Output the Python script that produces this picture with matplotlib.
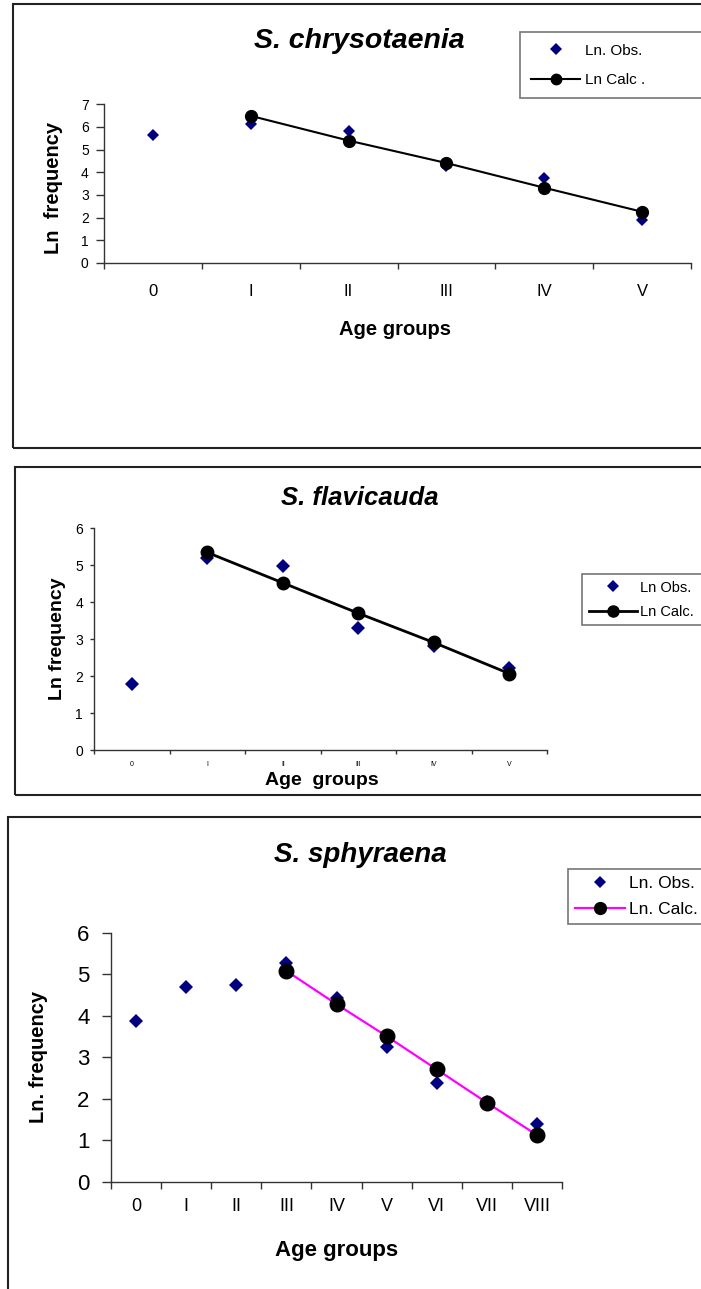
import numpy as np
import matplotlib
matplotlib.use("Agg")
import matplotlib.pyplot as plt
from matplotlib.patches import Rectangle

plt.rcParams['font.family'] = ['Liberation Sans', 'DejaVu Sans']

W, H = 701, 1289

# data
ages1 = ['0', 'I', 'II', 'III', 'IV', 'V']
obs1 = [5.65, 6.12, 5.84, 4.27, 3.76, 1.90]
calc1 = [6.49, 5.40, 4.41, 3.32, 2.26]          # I..V

ages2 = ['0', 'I', 'II', 'III', 'IV', 'V']
obs2 = [1.78, 5.18, 4.98, 3.29, 2.82, 2.21]
calc2 = [5.34, 4.52, 3.70, 2.91, 2.07]          # I..V

ages3 = ['0', 'I', 'II', 'III', 'IV', 'V', 'VI', 'VII', 'VIII']
obs3 = [3.87, 4.69, 4.73, 5.28, 4.43, 3.24, 2.39, 1.92, 1.39]
calc3 = [5.08, 4.28, 3.51, 2.71, 1.91, 1.13]    # III..VIII


def rect(l, t, r, b):
    return [l / W, 1 - b / H, (r - l) / W, (b - t) / H]


def fx(x):
    return x / W


def fy(y):
    return 1 - y / H


fig = plt.figure(figsize=(W / 100, H / 100), dpi=100)
fig.patch.set_facecolor('white')

# panel frames
for l, t, r, b in [(12.7, 3.5, 720, 447.7), (14.7, 466.7, 720, 795), (8, 816.7, 720, 1310)]:
    fig.add_artist(Rectangle((fx(l), fy(b)), fx(r - l), (b - t) / H, transform=fig.transFigure,
                             fill=False, edgecolor='#222222', lw=1.5))


def panel(box, ages, obs, calc, start, ymax, title, tpos, xlab, xpos, ylab, ypos,
          fs, leg_lab, leg, line_col, lw, ms_c, ms_d):
    ax = fig.add_axes(rect(*box))
    x = np.arange(len(ages))
    ax.plot(x, obs, linestyle='none', marker='D', color='#000080', ms=ms_d, mew=0,
            label=leg_lab[0], zorder=3)
    ax.plot(x[start:], calc, color=line_col, lw=lw, marker='o', mfc='black', mec='black',
            ms=ms_c, label=leg_lab[1], zorder=4)
    ax.set_xlim(-0.5, len(ages) - 0.5)
    ax.set_ylim(0, ymax)
    ax.set_yticks(range(ymax + 1))
    ax.set_xticks(np.arange(len(ages) + 1) - 0.5)
    ax.set_xticklabels([])
    ax.set_xticks(x, minor=True)
    ax.set_xticklabels(ages, minor=True)
    for s in ['top', 'right']:
        ax.spines[s].set_visible(False)
    for s in ['left', 'bottom']:
        ax.spines[s].set_color('#333333')
        ax.spines[s].set_linewidth(1.0)
    ax.tick_params(axis='y', direction='out', length=fs['ylen'], width=1, color='#333333',
                   labelsize=fs['ytick'], pad=fs['ypad'])
    ax.tick_params(axis='x', which='major', direction='out', length=fs['xlen'], width=1,
                   color='#333333')
    ax.tick_params(axis='x', which='minor', length=0, labelsize=fs['xtick'], pad=fs['xpad'])
    ax.set_facecolor('none')

    fig.text(fx(tpos[0]), fy(tpos[1]), title, ha='center', va='baseline',
             fontsize=fs['title'], fontweight='bold', fontstyle='italic')
    fig.text(fx(xpos[0]), fy(xpos[1]), xlab, ha='center', va='baseline',
             fontsize=fs['xlab'], fontweight='bold')
    fig.text(fx(ypos[0]), fy(ypos[1]), ylab, ha='center', va='center', rotation=90,
             fontsize=fs['ylab'], fontweight='bold')

    # legend box runs past the right edge, as in the source
    lg = ax.legend(loc='upper left',
                   bbox_to_anchor=(fx(leg['x']), fy(leg['y']) - 0.05, fx(708 - leg['x']), 0.05),
                   bbox_transform=fig.transFigure, mode='expand', numpoints=1,
                   fontsize=leg['fs'], frameon=True, fancybox=False, borderpad=leg['bp'],
                   labelspacing=leg['ls'], handlelength=leg['hl'], handletextpad=leg['hp'],
                   borderaxespad=0)
    lg.get_frame().set_edgecolor('#555555')
    lg.get_frame().set_linewidth(1.2)
    h = lg.legend_handles
    h[0].set_markersize(leg['md'])
    h[1].set_markersize(leg['mc'])
    return ax


panel((104, 104.3, 691, 263), ages1, obs1, calc1, 1, 7,
      'S. chrysotaenia', (359, 48), 'Age groups', (395, 335), 'Ln  frequency', (54, 188),
      dict(title=20.5, xlab=14.5, ylab=14.5, ytick=10, xtick=12, ylen=6, xlen=4,
           ypad=5, xpad=15),
      ('Ln. Obs.', 'Ln Calc .'),
      dict(x=520, y=32.3, fs=11, bp=0.75, ls=1.0, hl=3.2, hp=0.3, md=6, mc=7.5),
      'black', 1.5, 8.5, 6.5)

panel((94, 528, 547, 750.3), ages2, obs2, calc2, 1, 6,
      'S. flavicauda', (360, 505), 'Age  groups', (322, 785), 'Ln frequency', (58, 639),
      dict(title=18.5, xlab=14, ylab=14, ytick=10, xtick=5, ylen=3, xlen=3,
           ypad=5, xpad=8),
      ('Ln Obs.', 'Ln Calc.'),
      dict(x=582, y=574, fs=10.5, bp=0.45, ls=0.7, hl=3.3, hp=0.2, md=6, mc=8),
      'black', 2, 9, 7.5)

panel((111, 932.7, 562, 1182), ages3, obs3, calc3, 3, 6,
      'S. sphyraena', (360, 861.7), 'Age groups', (337, 1256), 'Ln. frequency', (39, 1057),
      dict(title=20, xlab=16, ylab=14.5, ytick=16, xtick=13, ylen=6.5, xlen=4.8,
           ypad=9, xpad=11.5),
      ('Ln. Obs.', 'Ln. Calc.'),
      dict(x=568, y=869, fs=12.5, bp=0.4, ls=0.6, hl=2.9, hp=0.2, md=6, mc=8.5),
      '#FF00FF', 1.6, 10.5, 7.5)

fig.savefig('out.png', dpi=100)
